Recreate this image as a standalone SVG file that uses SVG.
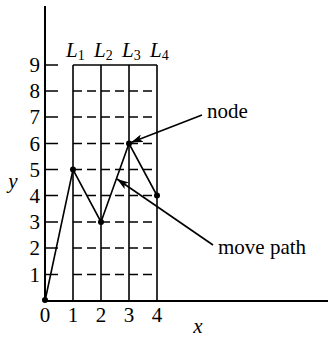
<svg xmlns="http://www.w3.org/2000/svg" width="328" height="337" viewBox="0 0 328 337">
<defs>
<style>
.ax{stroke:#000;stroke-width:2;fill:none}
.ln{stroke:#000;stroke-width:1.6;fill:none}
.ds{stroke:#000;stroke-width:1.5;stroke-dasharray:9,5;fill:none}
.tk{stroke:#000;stroke-width:1.5}
.t{font-family:"Liberation Serif",serif;font-size:21px;fill:#000}
.i{font-style:italic}
.nd{fill:#000}
</style>
<marker id="ah" viewBox="0 0 12 8" refX="12" refY="4" markerWidth="12" markerHeight="8" markerUnits="userSpaceOnUse" orient="auto">
<path d="M0,0 L12,4 L0,8 L3,4 Z" fill="#000"/>
</marker>
</defs>
<g id="axes">
<line class="ax" x1="45" y1="6" x2="45" y2="301"/>
<line class="ax" x1="44" y1="301" x2="328" y2="301"/>
</g>
<g id="grid">
<line class="ln" x1="73" y1="65" x2="73" y2="301"/>
<line class="ln" x1="101" y1="65" x2="101" y2="301"/>
<line class="ln" x1="129" y1="65" x2="129" y2="301"/>
<line class="ln" x1="157" y1="65" x2="157" y2="301"/>
<line class="ln" x1="73" y1="65" x2="157" y2="65"/>
<line class="tk" x1="45" y1="65" x2="58" y2="65"/>
<g id="ticks">
<line class="tk" x1="45" y1="91" x2="58" y2="91"/>
<line class="tk" x1="45" y1="117" x2="58" y2="117"/>
<line class="tk" x1="45" y1="143.5" x2="58" y2="143.5"/>
<line class="tk" x1="45" y1="169.5" x2="58" y2="169.5"/>
<line class="tk" x1="45" y1="195.5" x2="58" y2="195.5"/>
<line class="tk" x1="45" y1="222" x2="58" y2="222"/>
<line class="tk" x1="45" y1="248" x2="58" y2="248"/>
<line class="tk" x1="45" y1="274.5" x2="58" y2="274.5"/>
</g>
<g id="dashes">
<line class="ds" x1="73" y1="91" x2="153" y2="91"/>
<line class="ds" x1="73" y1="117" x2="153" y2="117"/>
<line class="ds" x1="73" y1="143.5" x2="153" y2="143.5"/>
<line class="ds" x1="73" y1="169.5" x2="153" y2="169.5"/>
<line class="ds" x1="73" y1="195.5" x2="153" y2="195.5"/>
<line class="ds" x1="73" y1="222" x2="153" y2="222"/>
<line class="ds" x1="73" y1="248" x2="153" y2="248"/>
<line class="ds" x1="73" y1="274.5" x2="153" y2="274.5"/>
</g>
</g>
<g id="connectors">
<polyline class="ln" points="45,301 73,169.5 101,222 129,143.5 157,195.5"/>
<line class="ln" x1="202" y1="115" x2="131" y2="142.5" marker-end="url(#ah)"/>
<line class="ln" x1="213" y1="245" x2="117" y2="179" marker-end="url(#ah)"/>
</g>
<g id="nodes">
<circle id="n0" class="nd" cx="45" cy="300" r="3"/>
<circle id="n1" class="nd" cx="73" cy="169.5" r="3"/>
<circle id="n2" class="nd" cx="101" cy="222" r="3"/>
<circle id="n3" class="nd" cx="129" cy="143.5" r="3"/>
<circle id="n4" class="nd" cx="157" cy="195.5" r="3"/>
</g>
<g id="labels">
<text class="t" x="40" y="72" text-anchor="end">9</text>
<text class="t" x="40" y="98" text-anchor="end">8</text>
<text class="t" x="40" y="124" text-anchor="end">7</text>
<text class="t" x="40" y="150.5" text-anchor="end">6</text>
<text class="t" x="40" y="176.5" text-anchor="end">5</text>
<text class="t" x="40" y="202.5" text-anchor="end">4</text>
<text class="t" x="40" y="229" text-anchor="end">3</text>
<text class="t" x="40" y="255" text-anchor="end">2</text>
<text class="t" x="40" y="281.5" text-anchor="end">1</text>
<text class="t i" x="13" y="188" text-anchor="middle">y</text>
<text class="t" x="45" y="322" text-anchor="middle">0</text>
<text class="t" x="73" y="322" text-anchor="middle">1</text>
<text class="t" x="101" y="322" text-anchor="middle">2</text>
<text class="t" x="129" y="322" text-anchor="middle">3</text>
<text class="t" x="157" y="322" text-anchor="middle">4</text>
<text class="t i" x="198" y="333" text-anchor="middle">x</text>
<text class="t" x="66" y="57"><tspan class="i">L</tspan><tspan font-size="14" dy="3">1</tspan></text>
<text class="t" x="94" y="57"><tspan class="i">L</tspan><tspan font-size="14" dy="3">2</tspan></text>
<text class="t" x="122" y="57"><tspan class="i">L</tspan><tspan font-size="14" dy="3">3</tspan></text>
<text class="t" x="150" y="57"><tspan class="i">L</tspan><tspan font-size="14" dy="3">4</tspan></text>
<text class="t" x="207" y="118">node</text>
<text class="t" x="218" y="254">move path</text>
</g>
</svg>
